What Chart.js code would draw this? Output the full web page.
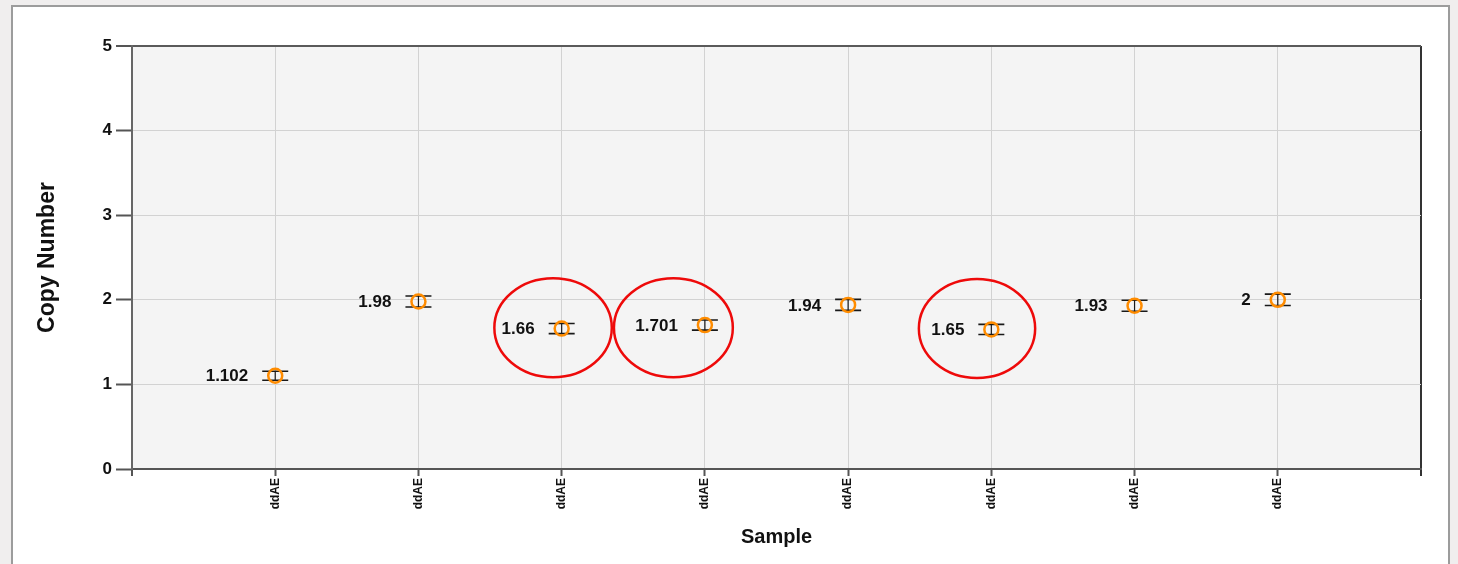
<!DOCTYPE html>
<html>
<head>
<meta charset="utf-8">
<script src="https://cdn.jsdelivr.net/npm/chart.js@4"></script>
<style>
  html, body { margin: 0; padding: 0; width: 1458px; height: 564px; overflow: hidden; background: #f0eeee; }
  #frame { position: absolute; left: 11px; top: 5px; width: 1439px; height: 640px; box-sizing: border-box;
           border: 2px solid #9c9c9c; background: #ffffff; }
  #chart { position: absolute; left: 0; top: 0; }
</style>
</head>
<body>
<div id="frame"></div>
<canvas id="chart" width="1458" height="564"></canvas>
<script>
// Sample names along the x axis
const samples = ['ddAE', 'ddAE', 'ddAE', 'ddAE', 'ddAE', 'ddAE', 'ddAE', 'ddAE'];
// Measured copy number per sample
const copyNumbers = [1.102, 1.98, 1.66, 1.701, 1.94, 1.65, 1.93, 2];
// Confidence interval below / above each value
const errorBelow = [0.053, 0.065, 0.06, 0.06, 0.065, 0.06, 0.065, 0.067];
const errorAbove = [0.053, 0.065, 0.06, 0.06, 0.065, 0.06, 0.065, 0.067];
// Y axis tick values
const yTickValues = [0, 1, 2, 3, 4, 5];
// Highlighted samples (ring centre and radii in axis units)
const highlightRings = [
  { x: 2.94, y: 1.67, rx: 0.41, ry: 0.585 },
  { x: 3.78, y: 1.67, rx: 0.415, ry: 0.585 },
  { x: 5.90, y: 1.66, rx: 0.406, ry: 0.585 }
];

const FONT = "'Liberation Sans', Arial, sans-serif";
const xMax = samples.length + 1;

const points = copyNumbers.map((v, i) => ({ x: i + 1, y: v }));

// Light grey plot area
const plotBackground = {
  id: 'plotBackground',
  beforeDraw(chart) {
    const { ctx, chartArea: a } = chart;
    ctx.save();
    ctx.fillStyle = '#f4f4f4';
    ctx.fillRect(a.left, a.top, a.right - a.left, a.bottom - a.top);
    ctx.restore();
  }
};

// Vertical error bars with caps, drawn under the markers
const errorBars = {
  id: 'errorBars',
  beforeDatasetsDraw(chart) {
    const { ctx, scales: { x, y } } = chart;
    ctx.save();
    ctx.strokeStyle = '#1a1a1a';
    copyNumbers.forEach((v, i) => {
      const px = x.getPixelForValue(i + 1);
      const yLo = y.getPixelForValue(v - errorBelow[i]);
      const yHi = y.getPixelForValue(v + errorAbove[i]);
      ctx.lineWidth = 1.2;
      ctx.beginPath();
      ctx.moveTo(px, yLo); ctx.lineTo(px, yHi);
      ctx.stroke();
      ctx.lineWidth = 1.6;
      ctx.beginPath();
      ctx.moveTo(px - 13, yLo); ctx.lineTo(px + 13, yLo);
      ctx.moveTo(px - 13, yHi); ctx.lineTo(px + 13, yHi);
      ctx.stroke();
    });
    ctx.restore();
  }
};

// Value written to the left of each marker
const valueLabels = {
  id: 'valueLabels',
  afterDatasetsDraw(chart) {
    const { ctx, scales: { x, y } } = chart;
    ctx.save();
    ctx.font = 'bold 17px ' + FONT;
    ctx.fillStyle = '#111111';
    ctx.textAlign = 'right';
    ctx.textBaseline = 'middle';
    copyNumbers.forEach((v, i) => {
      ctx.fillText(String(v), x.getPixelForValue(i + 1) - 27, y.getPixelForValue(v) + 1);
    });
    ctx.restore();
  }
};

// Red rings around the highlighted samples
const rings = {
  id: 'rings',
  afterDraw(chart) {
    const { ctx, scales: { x, y } } = chart;
    ctx.save();
    ctx.strokeStyle = '#ee0a0a';
    ctx.lineWidth = 2.5;
    highlightRings.forEach(r => {
      const cx = x.getPixelForValue(r.x);
      const cy = y.getPixelForValue(r.y);
      const rx = Math.abs(x.getPixelForValue(r.x + r.rx) - cx);
      const ry = Math.abs(y.getPixelForValue(r.y + r.ry) - cy);
      ctx.beginPath();
      ctx.ellipse(cx, cy, rx, ry, 0, 0, Math.PI * 2);
      ctx.stroke();
    });
    ctx.restore();
  }
};

new Chart(document.getElementById('chart'), {
  type: 'scatter',
  data: {
    datasets: [{
      data: points,
      showLine: false,
      pointStyle: 'circle',
      pointRadius: 7,
      pointHoverRadius: 7,
      pointBorderWidth: 2.5,
      pointBorderColor: '#ff8c00',
      pointBackgroundColor: 'rgba(0,0,0,0)'
    }]
  },
  options: {
    responsive: false,
    animation: false,
    devicePixelRatio: 1,
    events: [],
    layout: { padding: { left: 0, top: 46, right: 37, bottom: 0 } },
    plugins: { legend: { display: false }, tooltip: { enabled: false } },
    scales: {
      x: {
        type: 'linear',
        min: 0,
        max: xMax,
        afterBuildTicks(scale) {
          scale.ticks = Array.from({ length: xMax + 1 }, (_, i) => ({ value: i }));
        },
        afterFit(scale) { scale.height = 95; },
        border: { display: true, color: '#555555', width: 2 },
        grid: {
          drawTicks: true,
          tickLength: 7,
          color: c => c.tick && c.tick.value === xMax ? '#333333' : (c.tick && c.tick.value === 0 ? '#666666' : '#d2d2d2'),
          lineWidth: c => c.tick && (c.tick.value === xMax || c.tick.value === 0) ? 2 : 1,
          tickColor: c => c.tick && c.tick.value === xMax ? '#333333' : '#555555',
          tickWidth: 2
        },
        ticks: {
          autoSkip: false,
          minRotation: 90,
          maxRotation: 90,
          padding: 2,
          color: '#111111',
          font: { family: FONT, size: 12, weight: 'bold' },
          callback: v => (v >= 1 && v <= samples.length) ? samples[v - 1] : ''
        },
        title: {
          display: true,
          text: 'Sample',
          color: '#111111',
          font: { family: FONT, size: 20, weight: 'bold' },
          padding: { top: 0, bottom: 15 }
        }
      },
      y: {
        type: 'linear',
        min: yTickValues[0],
        max: yTickValues[yTickValues.length - 1],
        afterBuildTicks(scale) {
          scale.ticks = yTickValues.map(v => ({ value: v }));
        },
        afterFit(scale) { scale.width = 132; },
        border: { display: true, color: '#666666', width: 2 },
        grid: {
          drawTicks: true,
          tickLength: 16,
          color: c => c.tick && c.tick.value === 5 ? '#5a5a5a' : '#d2d2d2',
          lineWidth: c => c.tick && c.tick.value === 5 ? 2 : 1,
          tickColor: '#555555',
          tickWidth: 2
        },
        ticks: {
          padding: 4,
          color: '#111111',
          font: { family: FONT, size: 17, weight: 'bold' },
          callback: v => String(v)
        },
        title: {
          display: true,
          text: 'Copy Number',
          color: '#111111',
          font: { family: FONT, size: 23, weight: 'bold' },
          padding: { top: 34, bottom: 0 }
        }
      }
    }
  },
  plugins: [plotBackground, errorBars, valueLabels, rings]
});
</script>
</body>
</html>
